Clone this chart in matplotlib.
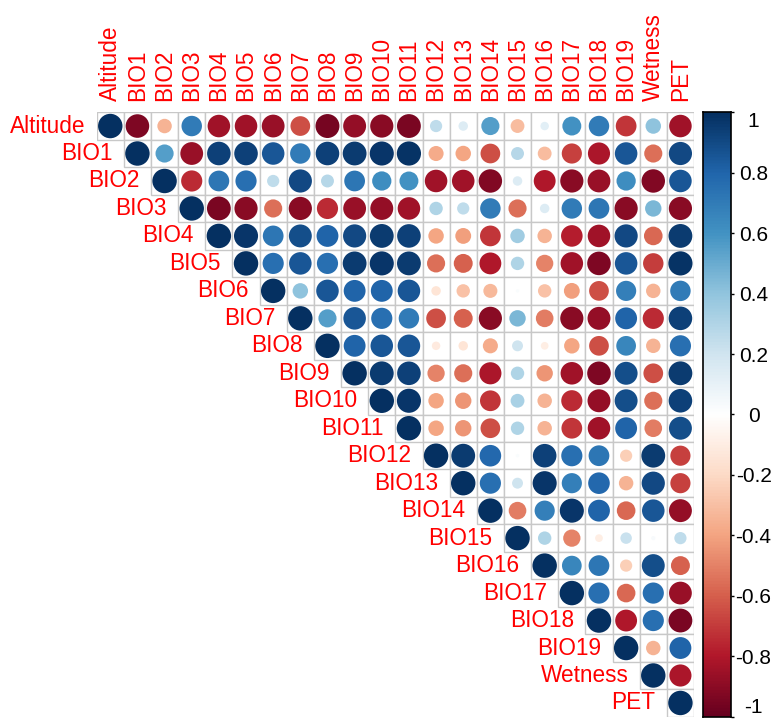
import numpy as np
import matplotlib
matplotlib.use("Agg")
import matplotlib.pyplot as plt
from matplotlib.colors import LinearSegmentedColormap
from matplotlib.patches import Ellipse, Rectangle

plt.rcParams['font.family'] = ['Liberation Sans', 'DejaVu Sans']

# variable names, in plot order
names = ['Altitude', 'BIO1', 'BIO2', 'BIO3', 'BIO4', 'BIO5', 'BIO6', 'BIO7',
         'BIO8', 'BIO9', 'BIO10', 'BIO11', 'BIO12', 'BIO13', 'BIO14', 'BIO15',
         'BIO16', 'BIO17', 'BIO18', 'BIO19', 'Wetness', 'PET']

# upper triangle of the correlation matrix, one row per variable (right of diagonal)
r_altitude = [-0.93, -0.35, 0.70, -0.85, -0.85, -0.87, -0.65, -0.96, -0.88, -0.90, -0.95,
              0.25, 0.15, 0.55, -0.32, 0.12, 0.60, 0.70, -0.72, 0.40, -0.85]
r_bio1 = [0.55, -0.87, 0.93, 0.93, 0.85, 0.70, 0.93, 0.95, 0.97, 0.98,
          -0.38, -0.40, -0.65, 0.28, -0.32, -0.68, -0.82, 0.85, -0.55, 0.90]
r_bio2 = [-0.75, 0.72, 0.75, 0.25, 0.90, 0.28, 0.72, 0.62, 0.60,
          -0.85, -0.85, -0.92, 0.15, -0.80, -0.90, -0.87, 0.62, -0.92, 0.85]
r_bio3 = [-0.95, -0.90, -0.55, -0.90, -0.75, -0.87, -0.88, -0.85,
          0.30, 0.25, 0.70, -0.55, 0.15, 0.70, 0.72, -0.90, 0.45, -0.90]
r_bio4 = [0.97, 0.72, 0.88, 0.80, 0.90, 0.95, 0.93,
          -0.40, -0.42, -0.72, 0.35, -0.35, -0.78, -0.85, 0.90, -0.58, 0.95]
r_bio5 = [0.75, 0.85, 0.75, 0.95, 0.97, 0.95,
          -0.55, -0.60, -0.80, 0.30, -0.50, -0.85, -0.93, 0.85, -0.70, 0.98]
r_bio6 = [0.40, 0.85, 0.80, 0.80, 0.85,
          -0.15, -0.30, -0.33, 0.02, -0.30, -0.42, -0.65, 0.68, -0.35, 0.70]
r_bio7 = [0.55, 0.85, 0.75, 0.70,
          -0.65, -0.60, -0.90, 0.45, -0.52, -0.90, -0.88, 0.80, -0.75, 0.93]
r_bio8 = [0.80, 0.85, 0.85,
          -0.12, -0.15, -0.38, 0.20, -0.10, -0.40, -0.65, 0.65, -0.35, 0.75]
r_bio9 = [0.95, 0.93,
          -0.50, -0.55, -0.82, 0.30, -0.45, -0.85, -0.93, 0.88, -0.65, 0.95]
r_bio10 = [0.97, -0.40, -0.45, -0.72, 0.32, -0.35, -0.75, -0.88, 0.88, -0.55, 0.93]
r_bio11 = [-0.40, -0.45, -0.65, 0.30, -0.35, -0.72, -0.85, 0.80, -0.52, 0.88]
r_bio12 = [0.95, 0.78, 0.02, 0.93, 0.75, 0.72, -0.25, 0.95, -0.68]
r_bio13 = [0.75, 0.20, 0.97, 0.68, 0.78, -0.35, 0.90, -0.68]
r_bio14 = [-0.52, 0.68, 0.97, 0.80, -0.58, 0.85, -0.88]
r_bio15 = [0.30, -0.50, -0.10, 0.22, 0.03, 0.25]
r_bio16 = [0.65, 0.72, -0.25, 0.88, -0.60]
r_bio17 = [0.75, -0.58, 0.75, -0.87]
r_bio18 = [-0.80, 0.75, -0.95]
r_bio19 = [-0.35, 0.80]
r_wetness = [-0.82]

cbar_ticks = [1, 0.8, 0.6, 0.4, 0.2, 0, -0.2, -0.4, -0.6, -0.8, -1]

upper_rows = [r_altitude, r_bio1, r_bio2, r_bio3, r_bio4, r_bio5, r_bio6, r_bio7,
              r_bio8, r_bio9, r_bio10, r_bio11, r_bio12, r_bio13, r_bio14, r_bio15,
              r_bio16, r_bio17, r_bio18, r_bio19, r_wetness]

n = len(names)
corr = np.eye(n)
for i, row in enumerate(upper_rows):
    corr[i, i + 1:] = row
    corr[i + 1:, i] = row

# corrplot's default RdBu ramp
cmap = LinearSegmentedColormap.from_list(
    'corrRdBu', ["#67001F", "#B2182B", "#D6604D", "#F4A582", "#FDDBC7", "#FFFFFF",
                 "#D1E5F0", "#92C5DE", "#4393C3", "#2166AC", "#053061"], N=200)

W, H = 773, 724
fig = plt.figure(figsize=(W / 100, H / 100), dpi=100)

# grid area in pixels
gx0, gx1, gy0, gy1 = 96.7, 694.0, 112.3, 716.7
ax = fig.add_axes([gx0 / W, 1 - gy1 / H, (gx1 - gx0) / W, (gy1 - gy0) / H])
ax.set_xlim(-0.5, n - 0.5)
ax.set_ylim(n - 0.5, -0.5)
ax.axis('off')

cw = (gx1 - gx0) / n  # cell width px
ch = (gy1 - gy0) / n  # cell height px
csize = min(cw, ch)

for i in range(n):
    for j in range(i, n):
        ax.add_patch(Rectangle((j - 0.5, i - 0.5), 1, 1, facecolor='white',
                               edgecolor='#C8C8C8', lw=1.0, zorder=1))
        r = corr[i, j]
        rad = 0.45 * np.sqrt(abs(r)) * csize
        ax.add_patch(Ellipse((j, i), 2 * rad / cw, 2 * rad / ch,
                             facecolor=cmap((r + 1) / 2), edgecolor='none', zorder=2))

# row labels to the left of the diagonal, column labels on top
lab_size = 16.3
for i, name in enumerate(names):
    ax.text(i - 0.5 - 0.42, i, name, color='#FF0000', fontsize=lab_size,
            ha='right', va='center', clip_on=False)
    ax.text(i, -0.5 - 0.4, name, color='#FF0000', fontsize=lab_size,
            ha='center', va='bottom', rotation=90, clip_on=False)

# colour legend
bx0, bx1 = 703.3, 730.7
cax = fig.add_axes([bx0 / W, 1 - gy1 / H, (bx1 - bx0) / W, (gy1 - gy0) / H])
grad = np.linspace(1, -1, 400).reshape(-1, 1)
cax.imshow(grad, cmap=cmap, vmin=-1, vmax=1, aspect='auto', extent=(0, 1, -1, 1))
cax.set_xlim(0, 1)
cax.set_ylim(-1, 1)
cax.set_xticks([])
cax.yaxis.tick_right()
cax.set_yticks(cbar_ticks)
cax.set_yticklabels([f'{t:g}' for t in cbar_ticks])
cax.tick_params(axis='y', length=2.5, width=1, pad=14, labelsize=15, colors='black')
ticklabs = cax.get_yticklabels()
for lab in ticklabs:
    lab.set_ha('center')
# keep the end labels inside the bar's height
ticklabs[0].set_va('top')
ticklabs[-1].set_va('bottom')
for s in cax.spines.values():
    s.set_linewidth(1.2)
    s.set_color('black')

fig.savefig('out.png', dpi=100)
